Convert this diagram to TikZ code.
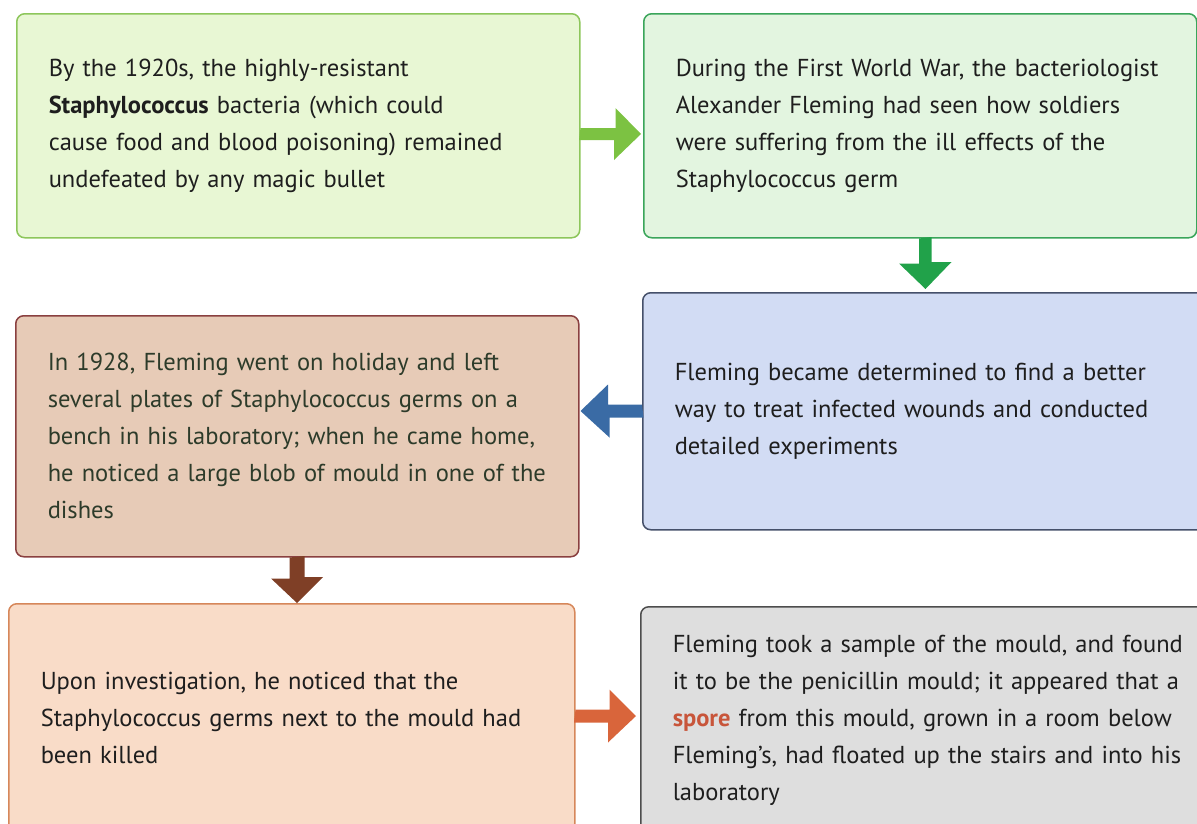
\documentclass[tikz,border=0pt]{standalone}
\usepackage{fontspec}
\setmainfont{PT Sans}
\usetikzlibrary{calc}
\definecolor{txt}{HTML}{1E1E1E}
\definecolor{txtB}{HTML}{2D3B2A}
\definecolor{fillA}{HTML}{E8F7D4}\definecolor{lineA}{HTML}{8DC65B}
\definecolor{fillB}{HTML}{E3F5E0}\definecolor{lineB}{HTML}{3AA55A}
\definecolor{fillC}{HTML}{E7CBB7}\definecolor{lineC}{HTML}{8A4040}
\definecolor{fillD}{HTML}{D2DCF4}\definecolor{lineD}{HTML}{45506A}
\definecolor{fillE}{HTML}{F9DCC8}\definecolor{lineE}{HTML}{D6875A}
\definecolor{fillF}{HTML}{DEDEDE}\definecolor{lineF}{HTML}{4D4D4D}
\definecolor{arrA}{HTML}{7CC242}
\definecolor{arrB}{HTML}{21A24A}
\definecolor{arrD}{HTML}{3A6BA5}
\definecolor{arrC}{HTML}{7F3F26}
\definecolor{arrE}{HTML}{D9653B}
\definecolor{spore}{HTML}{C8553A}
\tikzset{
  card/.style={rounded corners=8pt, line width=1.5pt, inner xsep=32pt, inner ysep=0pt,
    align=left, anchor=north west, text=txt,
    font=\fontsize{24.5}{37}\selectfont},
  blockarrow/.style={draw=none}
}
\begin{document}
\begin{tikzpicture}[x=1pt,y=-1pt]
\useasboundingbox (0,0) rectangle (1197,823);
\node[card, fill=fillA, draw=lineA, text width=499pt, minimum height=224pt] (b1) at (16,13)
 {By the 1920s, the highly-resistant\\
 \textbf{Staphylococcus} bacteria (which could\\
 cause food and blood poisoning) remained\\
 undefeated by any magic bullet};
\node[card, fill=fillB, draw=lineB, text width=489pt, minimum height=224pt] (b2) at (643,13)
 {During the First World War, the bacteriologist\\
 Alexander Fleming had seen how soldiers\\
 were suffering from the ill effects of the\\
 Staphylococcus germ};
\node[card, fill=fillD, draw=lineD, text width=520pt, minimum height=237pt] (b4) at (642,292)
 {Fleming became determined to find a better\\
 way to treat infected wounds and conducted\\
 detailed experiments};
\node[card, fill=fillC, draw=lineC, text=txtB, text width=499pt, minimum height=241pt] (b3) at (15,315)
 {In 1928, Fleming went on holiday and left\\
 several plates of Staphylococcus germs on a\\
 bench in his laboratory; when he came home,\\
 he noticed a large blob of mould in one of the\\
 dishes};
\node[card, fill=fillE, draw=lineE, text width=502pt, minimum height=228pt] (b5) at (8,603)
 {Upon investigation, he noticed that the\\
 Staphylococcus germs next to the mould had\\
 been killed};
\node[card, fill=fillF, draw=lineF, text width=540pt, minimum height=227pt] (b6) at (640,606)
 {Fleming took a sample of the mould, and found\\
 it to be the penicillin mould; it appeared that a\\
 \textcolor{spore}{\textbf{spore}} from this mould, grown in a room below\\
 Fleming’s, had floated up the stairs and into his\\
 laboratory};
% arrow b1 -> b2
\coordinate (s1) at (b1.east |- 0,134);
\fill[blockarrow, fill=arrA] ($(s1)+(0,-6)$) -- ++(35,0) -- ++(0,-20) -- ($(b2.west |- 0,134)+(-2,0)$)
  -- ++(-27,26) -- ++(0,-20) -- ++(-35,0) -- cycle;
% arrow b2 -> b4
\coordinate (s2) at (b2.south -| 925.5,0);
\fill[blockarrow, fill=arrB] ($(s2)+(-6.5,0)$) -- ++(0,25) -- ++(-20,0) -- ($(b4.north -| 925.5,0)+(0,-3)$)
  -- ++(26,-27) -- ++(-20,0) -- ++(0,-25) -- cycle;
% arrow b4 -> b3
\coordinate (s3) at (b4.west |- 0,411);
\fill[blockarrow, fill=arrD] ($(s3)+(0,-6.5)$) -- ++(-34,0) -- ++(0,-20) -- ($(b3.east |- 0,411)+(1,0)$)
  -- ++(29,26.5) -- ++(0,-20) -- ++(34,0) -- cycle;
% arrow b3 -> b5
\coordinate (s4) at (b3.south -| 297,0);
\fill[blockarrow, fill=arrC] ($(s4)+(-7.5,0)$) -- ++(0,21) -- ++(-18.5,0) -- ($(b5.north -| 297,0)$)
  -- ++(26,-26) -- ++(-18.5,0) -- ++(0,-21) -- cycle;
% arrow b5 -> b6
\coordinate (s5) at (b5.east |- 0,716);
\fill[blockarrow, fill=arrE] ($(s5)+(0,-6.5)$) -- ++(34,0) -- ++(0,-20) -- ($(b6.west |- 0,716)+(-4,0)$)
  -- ++(-28,26.5) -- ++(0,-20) -- ++(-34,0) -- cycle;
\end{tikzpicture}
\end{document}
